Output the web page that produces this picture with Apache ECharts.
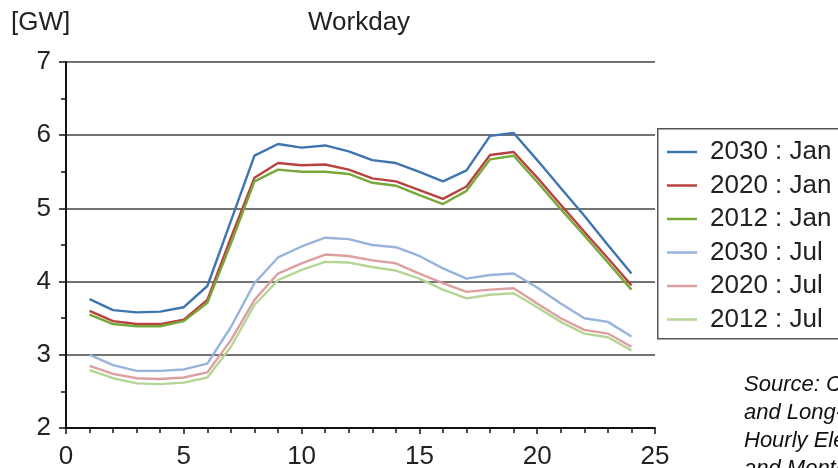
<!DOCTYPE html>
<html>
<head>
<meta charset="utf-8">
<script src="https://cdn.jsdelivr.net/npm/echarts@6/dist/echarts.min.js"></script>
<style>
  html, body { margin: 0; padding: 0; background: #fff; }
  #chart { width: 838px; height: 468px; }
</style>
</head>
<body>
<div id="chart"></div>
<script>
// Hourly electricity demand on a workday [GW], hour of day 1..24
const hours = [1,2,3,4,5,6,7,8,9,10,11,12,13,14,15,16,17,18,19,20,21,22,23,24];

const jan2030 = [3.76,3.61,3.58,3.59,3.65,3.94,4.83,5.72,5.88,5.83,5.86,5.78,5.66,5.62,5.50,5.37,5.52,5.99,6.03,5.66,5.28,4.90,4.50,4.11];
const jan2020 = [3.60,3.46,3.42,3.42,3.48,3.75,4.60,5.42,5.62,5.59,5.60,5.53,5.41,5.37,5.25,5.13,5.30,5.73,5.77,5.42,5.05,4.68,4.32,3.95];
const jan2012 = [3.55,3.42,3.39,3.39,3.46,3.71,4.52,5.37,5.53,5.50,5.50,5.47,5.35,5.31,5.18,5.06,5.24,5.67,5.72,5.36,4.99,4.63,4.26,3.89];
const jul2030 = [3.00,2.86,2.78,2.78,2.80,2.88,3.38,3.98,4.33,4.48,4.60,4.58,4.50,4.47,4.35,4.18,4.04,4.09,4.11,3.92,3.70,3.50,3.45,3.25];
const jul2020 = [2.85,2.74,2.68,2.67,2.69,2.76,3.20,3.75,4.11,4.25,4.37,4.35,4.29,4.25,4.11,3.98,3.86,3.89,3.91,3.70,3.50,3.34,3.29,3.11];
const jul2012 = [2.79,2.68,2.61,2.60,2.62,2.69,3.11,3.68,4.02,4.16,4.27,4.26,4.20,4.15,4.04,3.89,3.77,3.82,3.84,3.65,3.45,3.29,3.24,3.06];

const seriesNames = ['2030 : Jan', '2020 : Jan', '2012 : Jan', '2030 : Jul', '2020 : Jul', '2012 : Jul'];
const seriesValues = [jan2030, jan2020, jan2012, jul2030, jul2020, jul2012];
const seriesColors = ['#3f74b1', '#b8423f', '#78a83a', '#98b4dc', '#dca0a0', '#b5d594'];

const sourceLines = ['Source: Current', 'and Long-term', 'Hourly Electricity', 'and Monthly'];

const FONT = '"Liberation Sans", Arial, Helvetica, sans-serif';

const chart = echarts.init(document.getElementById('chart'), null, { renderer: 'canvas' });

chart.setOption({
  animation: false,
  backgroundColor: '#ffffff',
  title: [
    {
      text: 'Workday',
      left: 308, top: 10, padding: 0,
      textStyle: { fontFamily: FONT, fontSize: 26, fontWeight: 'normal', color: '#222' }
    },
    {
      text: '[GW]',
      left: 11, top: 10, padding: 0,
      textStyle: { fontFamily: FONT, fontSize: 26, fontWeight: 'normal', color: '#222' }
    }
  ],
  legend: {
    left: 667, top: 139, padding: 0,
    orient: 'vertical',
    itemWidth: 30, itemHeight: 2.5, itemGap: 7.5,
    icon: 'rect',
    textStyle: { fontFamily: FONT, fontSize: 26, color: '#222', lineHeight: 26, padding: [0, 0, 0, 8] },
    data: seriesNames
  },
  grid: { left: 66, right: 183, top: 62, bottom: 40, containLabel: false, outerBoundsMode: 'none' },
  xAxis: {
    type: 'value', min: 0, max: 25, interval: 5,
    axisLine: { show: true, onZero: false, lineStyle: { color: '#111', width: 2 } },
    axisTick: { show: true, length: 6, lineStyle: { color: '#111', width: 1.5 } },
    minorTick: { show: true, splitNumber: 5, length: 5, lineStyle: { color: '#111', width: 1.5 } },
    splitLine: { show: false },
    axisLabel: { fontFamily: FONT, fontSize: 26, color: '#222', margin: 16 }
  },
  yAxis: {
    type: 'value', min: 2, max: 7, interval: 1,
    axisLine: { show: true, lineStyle: { color: '#111', width: 2 } },
    axisTick: { show: true, length: 7, lineStyle: { color: '#111', width: 1.5 } },
    minorTick: { show: true, splitNumber: 2, length: 5, lineStyle: { color: '#111', width: 1.5 } },
    splitLine: { show: true, lineStyle: { color: '#444', width: 1.5 } },
    axisLabel: { fontFamily: FONT, fontSize: 26, color: '#222', margin: 15 }
  },
  graphic: [
    {
      type: 'rect', left: 657, top: 128, z: -1,
      shape: { width: 300, height: 210 },
      style: { fill: '#fff', stroke: '#555', lineWidth: 1.5 }
    },
    {
      type: 'text', left: 744, top: 371,
      style: {
        text: sourceLines.join('\n'),
        font: 'italic 22px ' + FONT,
        lineHeight: 28,
        fill: '#111'
      }
    }
  ],
  series: seriesNames.map((name, i) => ({
    name: name,
    type: 'line',
    showSymbol: false,
    symbol: 'none',
    color: seriesColors[i],
    lineStyle: { color: seriesColors[i], width: 2.4 },
    data: hours.map((h, k) => [h, seriesValues[i][k]])
  }))
});
</script>
</body>
</html>
